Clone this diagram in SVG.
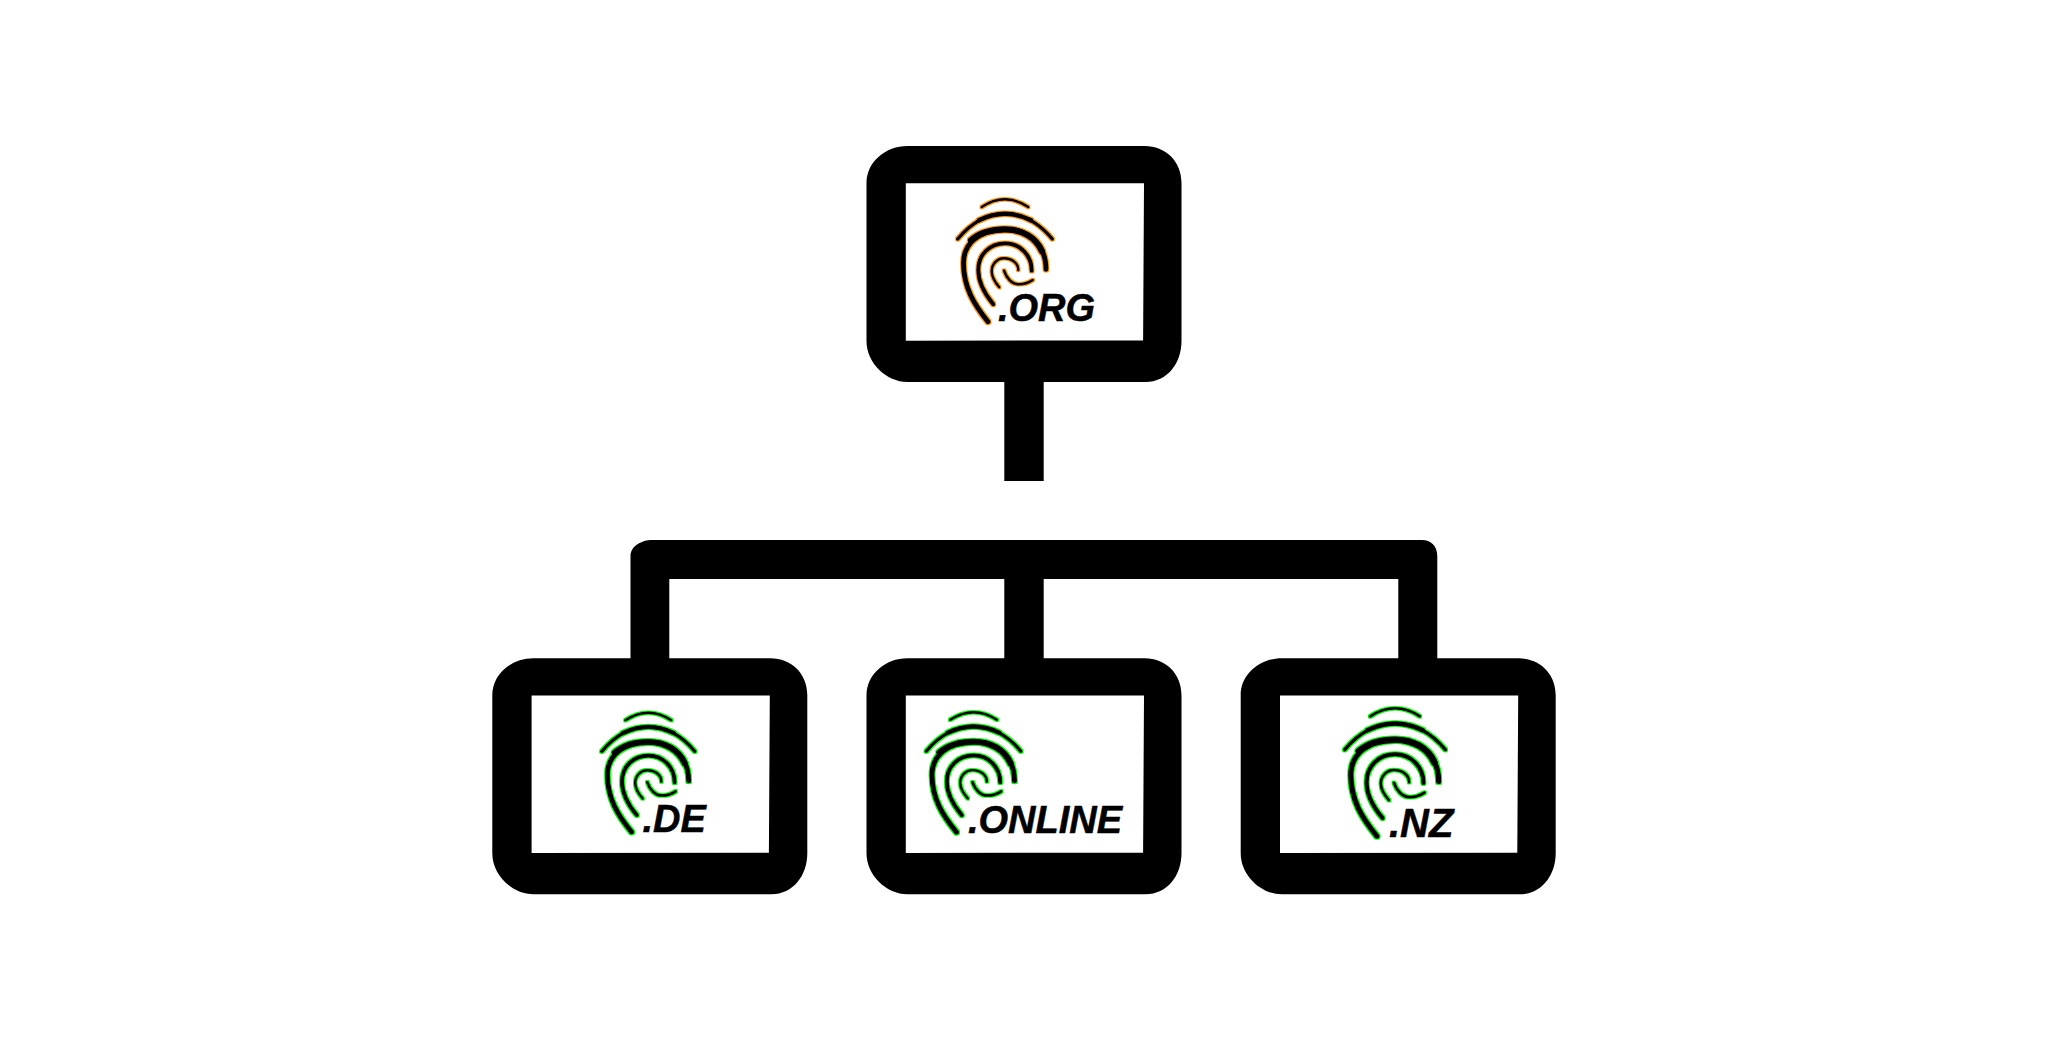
<svg xmlns="http://www.w3.org/2000/svg" width="2048" height="1041" viewBox="0 0 2048 1041">
<style>
.lbl{font-family:"Liberation Sans",Arial,sans-serif;font-weight:700;font-style:italic;font-size:38px;fill:#000;stroke:#000;stroke-width:.5px}
.fp path{fill:none;stroke:#000;stroke-linecap:round}
</style>
<defs>
<path id="frame" fill-rule="evenodd" d="M0,37C0,16 19,0 41,0H278C299,0 315,15 315,37V195C315,217 301,236 279,236H41C20,236 0,217 0,195ZM39.3,37.3V194.7L276.6,194.4L277.5,37.2Z"/>
<filter id="haloOrange" x="-15%" y="-15%" width="130%" height="130%" color-interpolation-filters="sRGB">
<feMorphology in="SourceAlpha" operator="dilate" radius="1.2" result="d"/>
<feFlood flood-color="#ff9a1a"/><feComposite in2="d" operator="in"/><feGaussianBlur stdDeviation="0.3" result="h"/>
<feMerge><feMergeNode in="h"/><feMergeNode in="SourceGraphic"/></feMerge>
</filter>
<filter id="haloGreen" x="-15%" y="-15%" width="130%" height="130%" color-interpolation-filters="sRGB">
<feMorphology in="SourceAlpha" operator="dilate" radius="1.2" result="d"/>
<feFlood flood-color="#00ff00"/><feComposite in2="d" operator="in"/><feGaussianBlur stdDeviation="0.3" result="h"/>
<feMerge><feMergeNode in="h"/><feMergeNode in="SourceGraphic"/></feMerge>
</filter>
<g id="fp" class="fp">
<path stroke-width="2.4" d="M-23.3,7.7Q0,-7.7 23.3,7.7"/>
<path stroke-width="3.2" d="M-47.3,39.7C-32,21 -15,14.5 0,14.5C15,14.5 32,21 47.3,39.7"/>
<path stroke-width="4.4" d="M-26,21C-17,16.5 -8,14.5 0,14.5C8,14.5 17,16.5 26,21"/>
<path stroke-width="4.8" d="M-17,122.4C-31,105 -41.5,88 -41.5,63.7C-41.5,43 -24,30 0,30C24,30 41,46 41,70"/>
<path stroke-width="6.2" d="M-34,41C-26,34 -14,30 0,30C17,30 31,38 37,52"/>
<path stroke-width="3.8" d="M-11.7,105C-20,95 -26.7,84 -26.7,70.7C-26.7,55 -15,44 0,44C15,44 26.7,56 26.7,71.4"/>
<path stroke-width="2.4" d="M-5.7,88C-10,83 -13.3,78 -13.3,72C-13.3,65 -8,59 -1,59C7,59 13.3,64 13.3,70.7"/>
<path stroke-width="2.6" d="M-1,71.4C1.5,79 7,85 14,85C19,85 23.5,83.5 27.7,80.7"/>
</g>
</defs>
<rect width="2048" height="1041" fill="#fff"/>
<g id="connectors" fill="#000">
<rect x="1004.3" y="375" width="39.4" height="106"/>
<path d="M630.5,660V556C630.5,546 642,540 652,540H1422C1431,540 1437.3,546 1437.3,556V660H1398.3V579H1043.7V660H1004.3V579H669.3V660Z"/>
</g>
<g id="node-org">
<use href="#frame" x="866.5" y="146"/>
<use href="#fp" transform="translate(1005,199.3)" filter="url(#haloOrange)"/>
<text class="lbl" x="998" y="321">.ORG</text>
</g>
<g id="node-de">
<use href="#frame" x="492.3" y="658.3"/>
<use href="#fp" transform="translate(648.3,712.7) scale(.985,.975)" filter="url(#haloGreen)"/>
<text class="lbl" x="642.5" y="831.7">.DE</text>
</g>
<g id="node-online">
<use href="#frame" x="866.5" y="658.3"/>
<use href="#fp" transform="translate(973.5,712.3) scale(1,.98)" filter="url(#haloGreen)"/>
<text class="lbl" x="968" y="833">.ONLINE</text>
</g>
<g id="node-nz">
<use href="#frame" x="1240.7" y="658.3"/>
<use href="#fp" transform="translate(1395,708.3) scale(1.065,1.045)" filter="url(#haloGreen)"/>
<text class="lbl" x="1389" y="836.7" style="font-size:40px">.NZ</text>
</g>
</svg>
